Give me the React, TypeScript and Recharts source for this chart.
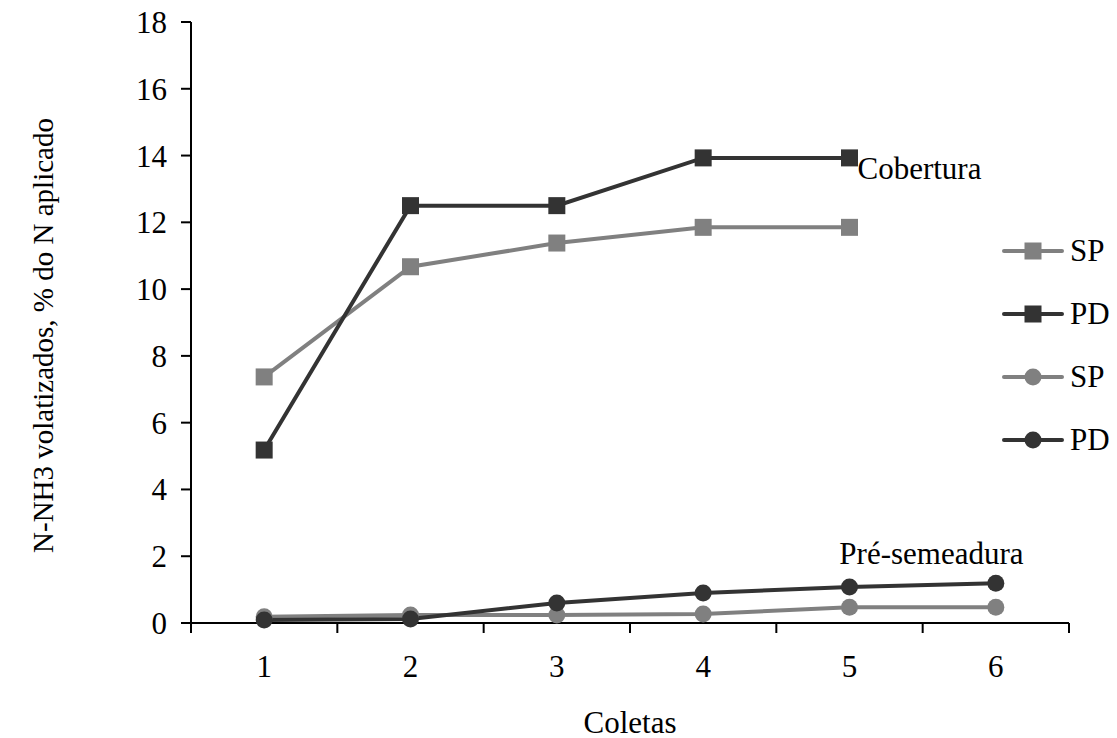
import { LineChart, Line, XAxis, YAxis, Legend, ReferenceDot, Label } from 'recharts';

const FONT = '"Liberation Serif", serif';

// coletas (sampling events)
const coletas = [1, 2, 3, 4, 5, 6];
// N-NH3 volatilizado, % do N aplicado
const coberturaSP = [7.37, 10.67, 11.38, 11.85, 11.85, null];
const coberturaPD = [5.18, 12.5, 12.5, 13.93, 13.93, null];
const preSemeaduraSP = [0.19, 0.24, 0.24, 0.27, 0.47, 0.47];
const preSemeaduraPD = [0.09, 0.12, 0.6, 0.9, 1.08, 1.19];

const yTicks = [0, 2, 4, 6, 8, 10, 12, 14, 16, 18];
const xBoundaryTicks = [0.5, 1.5, 2.5, 3.5, 4.5, 5.5, 6.5];

const GRAY = '#808080';
const DARK = '#333333';

const series = [
  { key: 'cobSP', name: 'SP', color: GRAY, shape: 'square', values: coberturaSP },
  { key: 'cobPD', name: 'PD', color: DARK, shape: 'square', values: coberturaPD },
  { key: 'preSP', name: 'SP', color: GRAY, shape: 'circle', values: preSemeaduraSP },
  { key: 'prePD', name: 'PD', color: DARK, shape: 'circle', values: preSemeaduraPD },
];

const data = coletas.map((c, i) => {
  const row: any = { coleta: c };
  series.forEach((s) => (row[s.key] = s.values[i]));
  return row;
});

function Marker(props: any) {
  const { cx, cy, fill, shape } = props;
  if (cx == null || cy == null) return <g />;
  if (shape === 'square') {
    return <rect x={cx - 8.5} y={cy - 8.5} width={17} height={17} fill={fill} />;
  }
  return <circle cx={cx} cy={cy} r={8.5} fill={fill} />;
}

function LegendContent() {
  return (
    <div style={{ fontFamily: FONT, fontSize: 31, color: '#000' }}>
      {series.map((s) => (
        <div key={s.key} style={{ display: 'flex', alignItems: 'center', height: 63 }}>
          <svg width={62} height={20}>
            <line x1={2} y1={10} x2={60} y2={10} stroke={s.color} strokeWidth={4} strokeLinecap="round" />
            {s.shape === 'square' ? (
              <rect x={22.5} y={1.5} width={17} height={17} fill={s.color} />
            ) : (
              <circle cx={31} cy={10} r={8.5} fill={s.color} />
            )}
          </svg>
          <span style={{ marginLeft: 6, lineHeight: 1 }}>{s.name}</span>
        </div>
      ))}
    </div>
  );
}

const tickStyle = { fill: '#000', fontSize: 31, fontFamily: FONT };

export default function App() {
  return (
    <div style={{ position: 'absolute', left: 0, top: 0, width: 1117, height: 738, background: '#fff', fontFamily: FONT }}>
      <LineChart width={1117} height={738} data={data} margin={{ top: 22, right: 48, left: 0, bottom: 0 }}>
        <XAxis
          xAxisId="b"
          dataKey="coleta"
          type="number"
          domain={[0.5, 6.5]}
          ticks={coletas}
          height={113}
          axisLine={false}
          tickLine={false}
          tickSize={0}
          tickMargin={30}
          tick={tickStyle}
        >
          <Label
            content={({ viewBox }: any) => {
              const cx = viewBox.x + viewBox.width / 2;
              const cy = viewBox.y + 97;
              return (
                <text x={cx} y={cy} textAnchor="middle" dominantBaseline="central" fontSize={31} fontFamily={FONT} fill="#000">
                  Coletas
                </text>
              );
            }}
          />
        </XAxis>
        <XAxis
          xAxisId="a"
          dataKey="coleta"
          type="number"
          domain={[0.5, 6.5]}
          ticks={xBoundaryTicks}
          tickFormatter={() => ''}
          tickSize={10}
          height={2}
          axisLine={{ stroke: '#000', strokeWidth: 2 }}
          tickLine={{ stroke: '#000', strokeWidth: 2 }}
        />
        <YAxis
          domain={[0, 18]}
          ticks={yTicks}
          width={191}
          tickSize={10}
          tickMargin={14}
          tick={tickStyle}
          axisLine={{ stroke: '#000', strokeWidth: 2 }}
          tickLine={{ stroke: '#000', strokeWidth: 2 }}
        >
          <Label
            content={({ viewBox }: any) => {
              const cx = viewBox.x + 43;
              const cy = viewBox.y + viewBox.height / 2 + 13;
              return (
                <text
                  x={cx}
                  y={cy}
                  transform={`rotate(-90 ${cx} ${cy})`}
                  textAnchor="middle"
                  dominantBaseline="central"
                  fontSize={29}
                  fontFamily={FONT}
                  fill="#000"
                >
                  N-NH3 volatizados, % do N aplicado
                </text>
              );
            }}
          />
        </YAxis>
        {series.map((s) => (
          <Line
            key={s.key}
            xAxisId="a"
            dataKey={s.key}
            name={s.name}
            stroke={s.color}
            strokeWidth={4}
            type="linear"
            isAnimationActive={false}
            dot={(p: any) => <Marker key={`${s.key}-${p.index}`} cx={p.cx} cy={p.cy} fill={s.color} shape={s.shape} />}
            activeDot={false}
          />
        ))}
        <ReferenceDot xAxisId="a" x={5} y={13.64} r={0} fill="none" stroke="none">
          <Label value="Cobertura" position="right" offset={8} fill="#000" fontSize={31} fontFamily={FONT} />
        </ReferenceDot>
        <ReferenceDot xAxisId="a" x={5.56} y={2.11} r={0} fill="none" stroke="none">
          <Label value="Pré-semeadura" position="center" fill="#000" fontSize={31} fontFamily={FONT} />
        </ReferenceDot>
        <Legend
          layout="vertical"
          align="center"
          verticalAlign="middle"
          content={<LegendContent />}
          wrapperStyle={{ left: 1002, top: 219, width: 115 }}
        />
      </LineChart>
    </div>
  );
}
